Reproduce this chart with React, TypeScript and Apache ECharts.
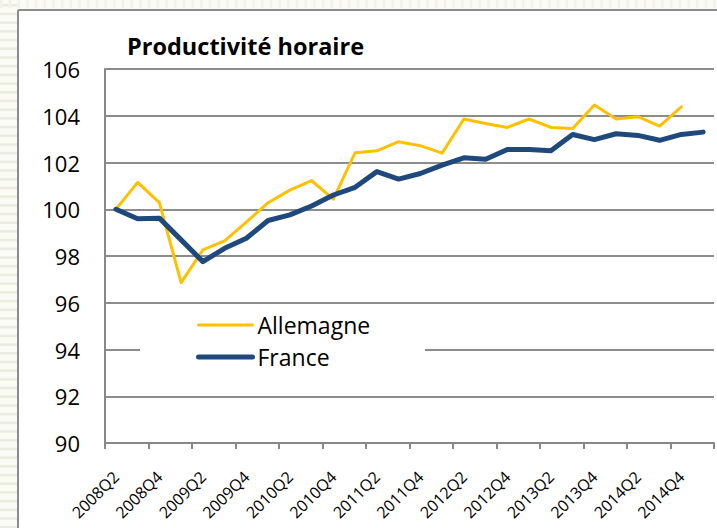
import React, { useEffect, useRef } from "react";
import * as echarts from "echarts";

const categories = [
  "2008Q2", "2008Q3", "2008Q4",
  "2009Q1", "2009Q2", "2009Q3", "2009Q4",
  "2010Q1", "2010Q2", "2010Q3", "2010Q4",
  "2011Q1", "2011Q2", "2011Q3", "2011Q4",
  "2012Q1", "2012Q2", "2012Q3", "2012Q4",
  "2013Q1", "2013Q2", "2013Q3", "2013Q4",
  "2014Q1", "2014Q2", "2014Q3", "2014Q4",
  "2015Q1",
];

const allemagne = [
  100.0, 101.15, 100.28, 96.86, 98.26, 98.65, 99.45, 100.28, 100.82, 101.22,
  100.43, 102.42, 102.5, 102.89, 102.72, 102.4, 103.86, 103.67, 103.5, 103.86,
  103.5, 103.45, 104.46, 103.86, 103.96, 103.56, 104.38, null,
];

const france = [
  100.0, 99.59, 99.62, 98.69, 97.76, 98.33, 98.76, 99.52, 99.76, 100.14,
  100.61, 100.94, 101.61, 101.29, 101.53, 101.89, 102.2, 102.14, 102.56, 102.56,
  102.5, 103.2, 102.98, 103.23, 103.16, 102.95, 103.2, 103.3,
];

const yMin = 90;
const yMax = 106;
const yStep = 2;

const FONT = "'Open Sans', Lato, sans-serif";

export default function App() {
  const ref = useRef<HTMLDivElement>(null);

  useEffect(() => {
    document.body.style.margin = "0";
    const chart = echarts.init(ref.current!, null, { renderer: "svg" });

    const stripes: any[] = [];
    for (let y = 4; y < 528; y += 8.7) {
      stripes.push({
        type: "rect",
        shape: { x: 0, y, width: 17, height: 2.5 },
        style: { fill: "#ecebdf" },
        silent: true,
      });
    }
    for (let x = 0; x < 717; x += 8.7) {
      stripes.push({
        type: "rect",
        shape: { x, y: 0, width: 2.5, height: 8 },
        style: { fill: "#f3f2ea" },
        silent: true,
      });
    }

    chart.setOption({
      animation: false,
      backgroundColor: "#ffffff",
      textStyle: { fontFamily: FONT },
      title: {
        text: "Productivité horaire",
        left: 122,
        top: 29,
        textStyle: { fontFamily: FONT, fontWeight: "bold", fontSize: 23.5, color: "#000" },
      },
      graphic: [
        {
          type: "rect",
          shape: { x: 0, y: 0, width: 18, height: 528 },
          style: { fill: "#fbfbf6" },
          silent: true,
          z: 0,
        },
        {
          type: "rect",
          shape: { x: 0, y: 0, width: 717, height: 9 },
          style: { fill: "#fbfbf6" },
          silent: true,
          z: 0,
        },
        { type: "group", children: stripes, silent: true, z: 0 },
        {
          type: "line",
          shape: { x1: 18, y1: 10, x2: 717, y2: 10 },
          style: { stroke: "#8c8c8c", lineWidth: 2 },
          silent: true,
          z: 0,
        },
        {
          type: "line",
          shape: { x1: 18, y1: 10, x2: 18, y2: 528 },
          style: { stroke: "#8c8c8c", lineWidth: 2 },
          silent: true,
          z: 0,
        },
        {
          type: "rect",
          shape: { x: 140, y: 316, width: 285, height: 66 },
          style: { fill: "#ffffff" },
          silent: true,
          z: 1,
        },
      ],
      legend: {
        orient: "vertical",
        left: 196,
        top: 313,
        itemWidth: 54,
        itemHeight: 14,
        itemGap: 8,
        padding: 0,
        itemStyle: { opacity: 0 },
        textStyle: { fontFamily: FONT, fontSize: 23, color: "#000", lineHeight: 24 },
        data: [
          { name: "Allemagne", lineStyle: { width: 3, color: "#ffc000", cap: "round" } },
          { name: "France", lineStyle: { width: 5, color: "#1f497d", cap: "round" } },
        ],
      },
      grid: { left: 105, top: 69, right: 3, bottom: 85, containLabel: false, outerBoundsMode: "none" },
      xAxis: {
        type: "category",
        data: categories,
        boundaryGap: true,
        axisLine: { lineStyle: { color: "#888", width: 2 } },
        axisTick: { show: true, interval: 1, length: 6, lineStyle: { color: "#888", width: 2 } },
        axisLabel: {
          interval: 1,
          rotate: 45,
          margin: 31,
          fontSize: 16,
          color: "#000",
          fontFamily: FONT,
        },
        splitLine: { show: false },
      },
      yAxis: {
        type: "value",
        min: yMin,
        max: yMax,
        interval: yStep,
        axisLine: { show: true, lineStyle: { color: "#888", width: 2 } },
        axisTick: { show: false },
        axisLabel: { margin: 25, fontSize: 22, color: "#000", fontFamily: FONT },
        splitLine: { show: true, lineStyle: { color: "#8c8c8c", width: 2 } },
      },
      series: [
        {
          name: "Allemagne",
          type: "line",
          data: allemagne,
          symbol: "none",
          connectNulls: false,
          lineStyle: { color: "#ffc000", width: 3, cap: "round", join: "round" },
          itemStyle: { color: "#ffc000" },
          z: 3,
        },
        {
          name: "France",
          type: "line",
          data: france,
          symbol: "none",
          lineStyle: { color: "#1f497d", width: 5, cap: "round", join: "round" },
          itemStyle: { color: "#1f497d" },
          z: 4,
        },
      ],
    });

    return () => chart.dispose();
  }, []);

  return <div ref={ref} style={{ width: 717, height: 528 }} />;
}
